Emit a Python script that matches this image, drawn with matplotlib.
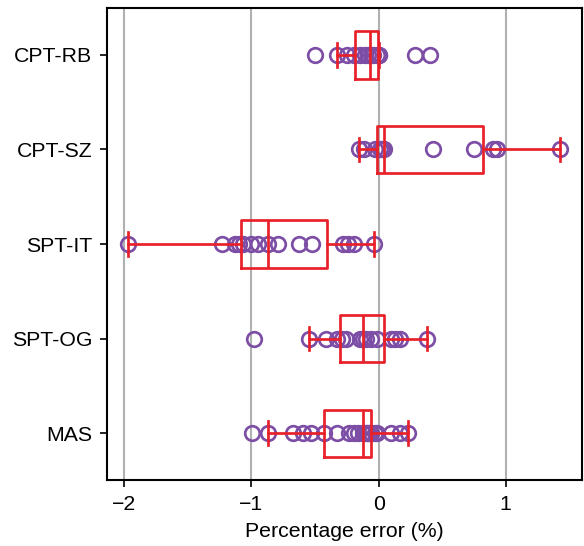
import matplotlib
matplotlib.use("Agg")
import matplotlib.pyplot as plt

plt.rcParams['font.family'] = ['Liberation Sans', 'DejaVu Sans']
plt.rcParams['font.size'] = 10.2
plt.rcParams['axes.linewidth'] = 1.0

# percentage error per method
labels = ['CPT-RB', 'CPT-SZ', 'SPT-IT', 'SPT-OG', 'MAS']

cpt_rb = [-0.503, -0.327, -0.249, -0.197, -0.15, -0.105, -0.08, -0.06, -0.04,
          -0.015, 0.0, 0.007, 0.289, 0.407]
cpt_sz = [-0.152, -0.118, -0.03, 0.012, 0.025, 0.042, 0.428, 0.748, 0.90,
          0.932, 1.43]
spt_it = [-1.967, -1.23, -1.13, -1.095, -1.067, -1.0, -0.95, -0.868, -0.794,
          -0.629, -0.525, -0.28, -0.244, -0.197, -0.039]
spt_og = [-0.978, -0.55, -0.415, -0.33, -0.284, -0.26, -0.145, -0.119, -0.10,
          -0.063, -0.012, 0.10, 0.13, 0.165, 0.378]
mas = [-0.998, -0.868, -0.67, -0.595, -0.535, -0.427, -0.327, -0.23, -0.19,
       -0.16, -0.12, -0.105, -0.09, -0.08, -0.07, -0.058, -0.03, -0.01,
       0.095, 0.165, 0.235]

data = [cpt_rb, cpt_sz, spt_it, spt_og, mas]
positions = [5, 4, 3, 2, 1]

red = '#e8202a'
purple = '#7d4ea6'

fig, ax = plt.subplots(figsize=(584 / 150, 546 / 150), dpi=150)
fig.subplots_adjust(left=0.183, right=0.9966, bottom=0.12, top=0.986)

for vals, pos in zip(data, positions):
    ax.plot(vals, [pos] * len(vals), 'o', ms=7, mfc='none', mec=purple, mew=1.3)

line = dict(color=red, linewidth=1.3)
ax.boxplot(data, positions=positions, vert=False, widths=0.5, showfliers=False,
           boxprops=line, whiskerprops=line, capprops=line, medianprops=line)

ax.set_yticks(positions)
ax.set_yticklabels(labels)
ax.set_ylim(0.5, 5.5)
ax.set_xticks([-2, -1, 0, 1])
ax.set_xlabel('Percentage error (%)')
ax.grid(axis='x', color='#b0b0b0', linewidth=1.0)
ax.set_axisbelow(True)

fig.savefig('out.png', dpi=150)
